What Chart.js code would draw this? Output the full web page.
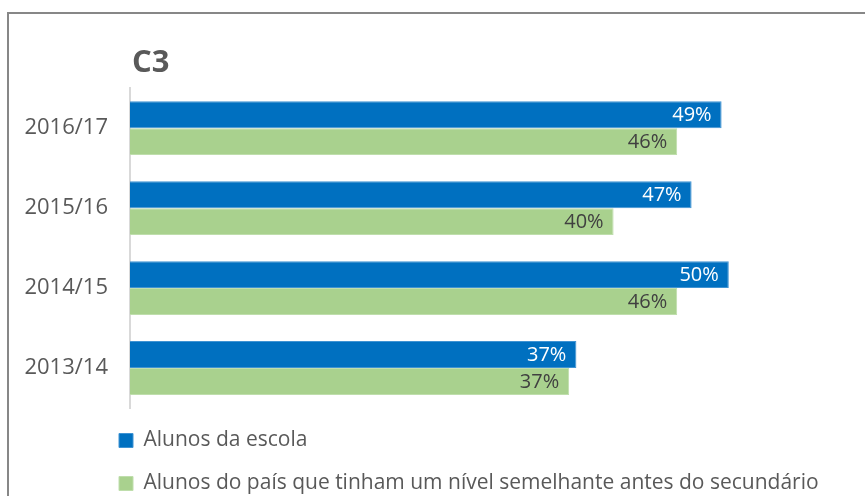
<!DOCTYPE html>
<html>
<head>
<meta charset="utf-8">
<script src="https://cdn.jsdelivr.net/npm/chart.js@4.4.1/dist/chart.umd.min.js"></script>
<style>
  html, body { margin: 0; padding: 0; background: #fff; overflow: hidden; }
  #wrap { position: relative; width: 865px; height: 496px; overflow: hidden; }
  #frame { position: absolute; left: 7px; top: 12px; width: 900px; height: 600px;
           border-top: 2px solid #878787; border-left: 2px solid #878787; }
  #chart { position: absolute; left: 0; top: 0; }
</style>
</head>
<body>
<div id="wrap">
  <div id="frame"></div>
  <canvas id="chart" width="865" height="504"></canvas>
</div>
<script>
// values (labels show them rounded)
const years = ['2016/17', '2015/16', '2014/15', '2013/14'];
const escola = [49.3, 46.8, 49.9, 37.2];
const pais = [45.6, 40.3, 45.6, 36.6];
const seriesNames = ['Alunos da escola', 'Alunos do país que tinham um nível semelhante antes do secundário'];
const barColors = ['#0070C0', '#A9D18E'];
const labelColors = ['#ffffff', '#404040'];

// value labels drawn inside the end of each bar
const barLabels = {
    id: 'barLabels',
    afterDatasetsDraw(chart) {
        const ctx = chart.ctx;
        ctx.save();
        ctx.font = '20px "Open Sans"';
        ctx.textAlign = 'right';
        ctx.textBaseline = 'middle';
        chart.data.datasets.forEach((ds, i) => {
            chart.getDatasetMeta(i).data.forEach((bar, j) => {
                ctx.fillStyle = labelColors[i];
                ctx.fillText(Math.round(ds.data[j]) + '%', bar.x - 10, bar.y + 1);
            });
        });
        ctx.restore();
    }
};

// line the title and legend up with the plot's left edge
const alignBlocks = {
    id: 'alignBlocks',
    afterLayout(chart) {
        chart.titleBlock.left = chart.chartArea.left + 2;
        chart.legend.left = chart.chartArea.left - 33;
    }
};

new Chart(document.getElementById('chart').getContext('2d'), {
    type: 'bar',
    data: {
        labels: years,
        datasets: [
            {
                label: seriesNames[0],
                data: escola,
                backgroundColor: barColors[0],
                borderColor: '#3f93d3',
                borderWidth: 1
            },
            {
                label: seriesNames[1],
                data: pais,
                backgroundColor: barColors[1],
                borderColor: '#bfdeac',
                borderWidth: 1
            }
        ]
    },
    options: {
        indexAxis: 'y',
        responsive: false,
        animation: false,
        barPercentage: 1,
        categoryPercentage: 0.673,
        layout: { padding: { right: 15 } },
        scales: {
            x: { display: false, min: 0, max: 60 },
            y: {
                grid: { display: false, drawTicks: false },
                border: { display: true, color: '#d9d9d9', width: 2 },
                ticks: {
                    padding: 22,
                    color: '#595959',
                    font: { family: '"Open Sans"', size: 22 }
                },
                afterFit: (scale) => { scale.width = 130; }
            }
        },
        plugins: {
            title: {
                display: true,
                text: 'C3',
                align: 'start',
                color: '#595959',
                font: { family: '"Open Sans"', size: 31, weight: 'bold' },
                padding: { top: 45, bottom: 6 }
            },
            legend: {
                display: true,
                position: 'bottom',
                align: 'start',
                labels: {
                    boxWidth: 14,
                    boxHeight: 14,
                    padding: 22,
                    color: '#595959',
                    font: { family: '"Open Sans"', size: 21 }
                }
            },
            tooltip: { enabled: false }
        }
    },
    plugins: [barLabels, alignBlocks]
});
</script>
</body>
</html>
